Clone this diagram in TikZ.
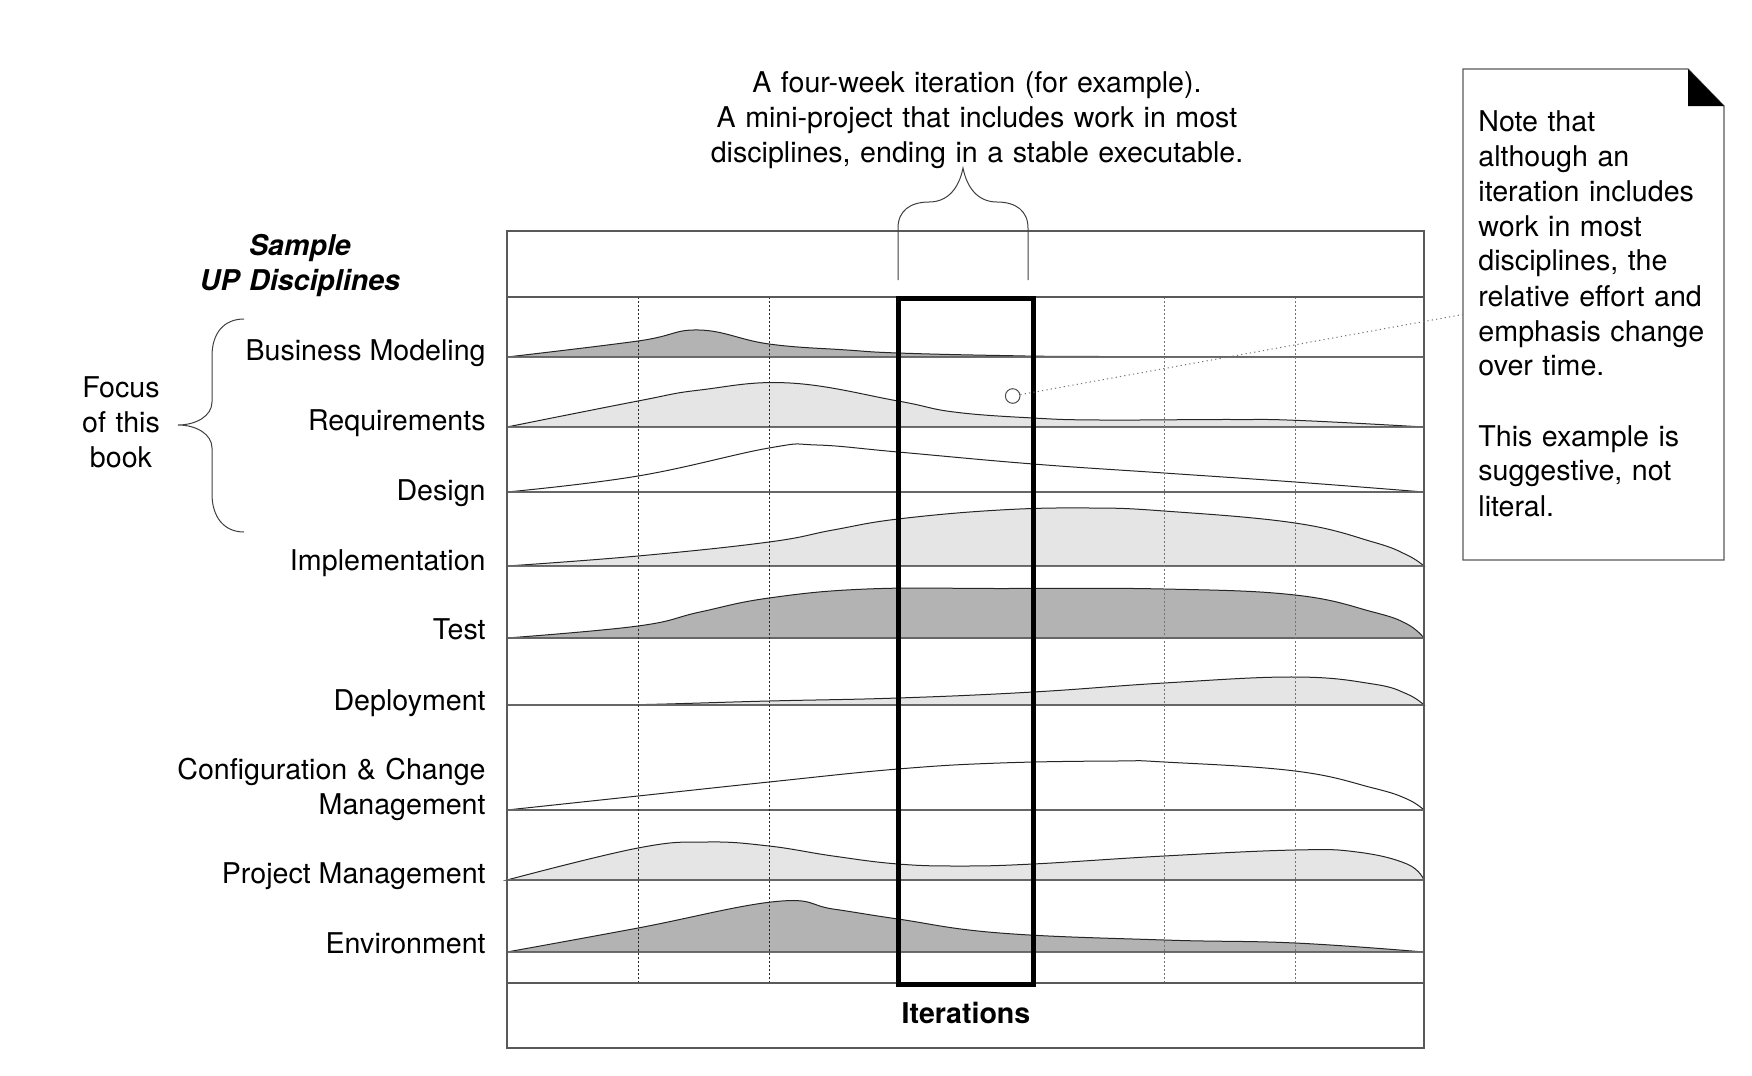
\documentclass[tikz,border=0pt]{standalone}
\usepackage{fontspec}
\setmainfont{TeX Gyre Heros}
\definecolor{bandDark}{HTML}{B3B3B3}
\definecolor{bandLight}{HTML}{E5E5E5}
\begin{document}
\begin{tikzpicture}[x=0.5pt,y=-0.5pt,
  txt/.style={font=\fontsize{14.3}{17.5}\selectfont, inner sep=0pt},
  boldtxt/.style={font=\fontsize{14.3}{17.5}\selectfont\bfseries, inner sep=0pt},
  rowlabel/.style={txt, anchor=base east},
  frame/.style={draw=black!65, line width=0.6pt},
  gridline/.style={draw=black!60, line width=0.6pt},
  curve/.style={draw=black!85, line width=0.5pt},
  darkband/.style={curve, fill=bandDark},
  lightband/.style={curve, fill=bandLight},
  tick/.style={line width=0.5pt, dash pattern=on 1pt off 1pt},
  brace/.style={draw=black!75, line width=0.5pt},
  iterbox/.style={draw=black, line width=2.5pt}]
\useasboundingbox (0,0) rectangle (1752,1076);

% ---- effort profiles, one band per discipline ----
\path[darkband] plot[smooth,tension=.7] coordinates {(507,357) (638,341) (699,330) (769,344) (847,350) (898,353) (1000,355.5) (1100,356.5) (1424,357)} -- cycle;
\path[lightband] plot[smooth,tension=.7] coordinates {(507,427) (638,401) (700,390) (790,383) (898,401) (954,412) (1033,418) (1100,420) (1233,419.5) (1300,420.5) (1424,427)} -- cycle;
\path[curve] plot[smooth,tension=.7] coordinates {(507,492) (638,476) (769,448) (817,445) (898,452) (1033,464) (1164,473) (1295,482) (1424,492)};
\path[lightband] plot[smooth,tension=.7] coordinates {(507,566) (638,556) (769,542) (833,530) (898,519) (1000,510) (1090,508) (1164,511) (1295,523) (1373,542) (1407,555) (1424,566)} -- cycle;
\path[darkband] plot[smooth,tension=.7] coordinates {(507,638) (638,626) (700,612) (769,598) (867,589) (1000,588.5) (1164,589) (1295,595) (1373,612) (1407,624) (1424,638)} -- cycle;
\path[lightband] plot[smooth,tension=.7] coordinates {(507,705) (620,705) (769,701) (898,698) (1033,692) (1164,683) (1295,677) (1373,684) (1407,694) (1424,705)} -- cycle;
\path[curve] plot[smooth,tension=.7] coordinates {(507,810) (638,796) (769,782) (898,769) (1000,763) (1117,761) (1164,762) (1295,771) (1373,788) (1407,799) (1424,810)};
\path[lightband] plot[smooth,tension=.7] coordinates {(507,880) (638,848) (707,842) (769,846) (833,856) (898,864) (960,866) (1033,864) (1164,856) (1295,850) (1357,852) (1407,864) (1424,880)} -- cycle;
\path[darkband] plot[smooth,tension=.7] coordinates {(507,952) (638,928) (776,901.5) (833,909) (898,919) (1000,933) (1164,940) (1295,943) (1424,952)} -- cycle;

% ---- row baselines ----
\foreach \y in {356.5,426.7,492,565.7,638,705,810,880,951.7}
  \draw[gridline] (507,\y) -- (1424,\y);

% ---- iteration boundaries ----
\foreach \x in {638,769}
  \draw[tick, draw=black!85] (\x,297) -- (\x,983);
\foreach \x in {1164,1295}
  \draw[tick, draw=black!55] (\x,297) -- (\x,983);

% ---- chart frame ----
\draw[frame] (507,231) rectangle (1424,1048);
\draw[frame] (507,297) -- (1424,297);
\draw[frame] (507,983) -- (1424,983);

% ---- highlighted iteration ----
\draw[iterbox] (898.5,298.5) rectangle (1033,984);

% ---- row labels ----
\node[rowlabel] (bm)  at (486,360)   {Business Modeling};
\node[rowlabel] (req) at (486,430.5) {Requirements};
\node[rowlabel] (des) at (486,500.5) {Design};
\node[rowlabel] (imp) at (486,570.5) {Implementation};
\node[rowlabel] (tst) at (486,639.5) {Test};
\node[rowlabel] (dep) at (486,710)   {Deployment};
\node[rowlabel, text width=170pt, align=right] (ccm) at (486,779.5) {Configuration \& Change\\Management};
\node[rowlabel] (pm)  at (486,883)   {Project Management};
\node[rowlabel] (env) at (486,953.5) {Environment};

% ---- headings ----
\node[txt, font=\fontsize{14.3}{17.5}\selectfont\bfseries\itshape, text width=130pt, align=center, anchor=base] (head) at (300,255) {Sample\\UP Disciplines};
\node[txt, text width=60pt, align=center, anchor=base] (focus) at (121,397) {Focus\\of this\\book};
\node[txt, text width=300pt, align=center, anchor=base] (iternote) at (977,92) {A four-week iteration (for example).\\A mini-project that includes work in most\\disciplines, ending in a stable executable.};
\node[boldtxt, anchor=base] (iter) at (966,1023) {Iterations};

% ---- braces ----
\draw[brace] (244,319) .. controls (224,319) and (212,333) .. (212,356)
  -- (212,402) .. controls (212,416) and (196,425) .. (178,425)
  .. controls (196,425) and (212,434) .. (212,448)
  -- (212,494) .. controls (212,517) and (224,532) .. (244,532);
\draw[brace] (898,280) -- (898,228) .. controls (898,211) and (910,202) .. (929,202)
  .. controls (948,202) and (959,188) .. (963,168)
  .. controls (967,188) and (978,202) .. (997,202)
  .. controls (1016,202) and (1028,211) .. (1028,228) -- (1028,280);

% ---- side note ----
\node[minimum width=130.5pt, minimum height=245.5pt, inner sep=0pt] (note) at (1593.5,314.5) {};
\draw[frame] (1463,69) -- (1688,69) -- (1724,106) -- (1724,560) -- (1463,560) -- cycle;
\fill[black] (1688,69) -- (1688,106) -- (1724,106) -- cycle;
\node[txt, text width=125pt, align=left, anchor=base west] (notetext) at (1478,131)
  {Note that\\although an\\iteration includes\\work in most\\disciplines, the\\relative effort and\\emphasis change\\over time.\\[17.5pt]This example is\\suggestive, not\\literal.};

% ---- pointer from the requirements band to the note ----
\node[circle, draw=black!70, line width=0.5pt, inner sep=0pt, minimum size=7.3pt] (mark) at (1012.7,396) {};
\draw[black!55, line width=0.5pt, dash pattern=on 0.6pt off 1.6pt] (mark) -- (note.west);
\end{tikzpicture}
\end{document}
